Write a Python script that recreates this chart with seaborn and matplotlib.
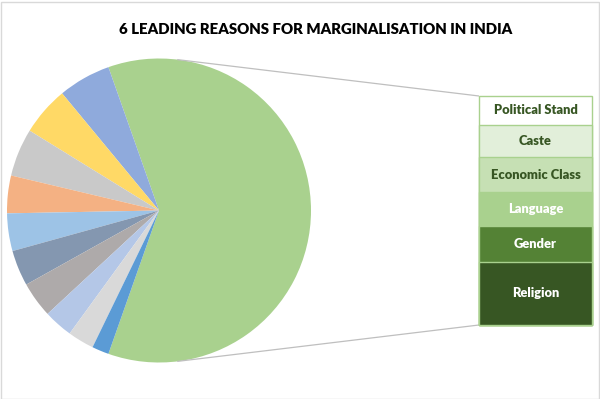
import numpy as np
import pandas as pd
import matplotlib
matplotlib.use("Agg")
import matplotlib.pyplot as plt
import seaborn as sns

# ---------------- data ----------------
title = "6 LEADING REASONS FOR MARGINALISATION IN INDIA"
# small, unlabelled slices of the main pie (percent)
other_values = [5.6, 5.2, 5.1, 4.0, 4.0, 3.8, 3.8, 3.1, 2.8, 1.8]
other_colors = ["#8FAADC", "#FFD966", "#C9C9C9", "#F4B183", "#9DC3E6",
                "#8497B0", "#AEAAAA", "#B4C7E7", "#D9D9D9", "#5B9BD5"]
# the six leading reasons (shown in the bar, top to bottom)
reasons = ["Political Stand", "Caste", "Economic Class", "Language", "Gender", "Religion"]
reason_values = [7.6, 8.7, 9.1, 9.0, 9.6, 16.8]
reason_colors = ["#FFFFFF", "#E2EFDA", "#C6E0B4", "#A9D18E", "#548235", "#375623"]
reason_text_colors = ["#375623", "#375623", "#375623", "#FFFFFF", "#FFFFFF", "#FFFFFF"]
group_color = "#A9D18E"

# ---------------- figure ----------------
sns.set_theme(style="white")
plt.rcParams["font.family"] = ["Lato", "DejaVu Sans"]

W, H = 600, 399
fig = plt.figure(figsize=(W / 100, H / 100), dpi=100)
ax = fig.add_axes([0, 0, 1, 1])

# pie geometry (pixels, y up)
cx, cy, r = 159.0, H - 210.5, 152.0
pie_values = [sum(reason_values)] + other_values
pie_colors = [group_color] + other_colors
start = -180.0 * pie_values[0] / sum(pie_values)
ax.pie(pie_values, colors=pie_colors, center=(cx, cy), radius=r,
       startangle=start, counterclock=True,
       wedgeprops=dict(linewidth=0), frame=True)
ax.set_xlim(0, W)
ax.set_ylim(0, H)
ax.set_aspect("equal")
ax.axis("off")

# bar (secondary plot)
bx0, bx1 = 479.0, 592.0
by_top, by_bot = 96.0, 325.0
bax = fig.add_axes([bx0 / W, (H - by_bot) / H, (bx1 - bx0) / W, (by_bot - by_top) / H])
total = sum(reason_values)
order = list(range(len(reasons)))[::-1]  # indices bottom->top
cum = np.cumsum([reason_values[i] for i in order])
bottoms = np.concatenate([[0], cum[:-1]])
for k in range(len(order) - 1, -1, -1):
    i = order[k]
    df = pd.DataFrame({"x": ["bar"], "y": [cum[k]]})
    sns.barplot(data=df, x="x", y="y", color=reason_colors[i], saturation=1,
                width=1.0, edgecolor=group_color, linewidth=1.0, ax=bax)
for p in bax.patches:
    p.set_clip_on(False)
for k, i in enumerate(order):
    bax.text(0, bottoms[k] + reason_values[i] / 2, reasons[i], ha="center", va="center",
             fontsize=9.3, fontweight="heavy", color=reason_text_colors[i])
bax.set_xlim(-0.5, 0.5)
bax.set_ylim(0, total)
bax.axis("off")

# connector lines: tangent from bar corners to the pie
def tangent_point(px, py, upper):
    dx, dy = px - cx, py - cy
    d = np.hypot(dx, dy)
    base = np.arctan2(dy, dx)
    off = np.arccos(r / d)
    angs = [base + off, base - off]
    pts = [(cx + r * np.cos(a), cy + r * np.sin(a)) for a in angs]
    pts.sort(key=lambda p: p[1])
    return pts[1] if upper else pts[0]

line_col = "#BFBFBF"
for (px, py, up) in [(bx0, H - by_top, True), (bx0, H - by_bot, False)]:
    tx, ty = tangent_point(px, py, up)
    ax.plot([tx, px], [ty, py], color=line_col, lw=0.9, solid_capstyle="butt")

# title, fitted to reference width
t = ax.text(316, H - 30, title, ha="center", va="center", fontsize=14,
            fontweight="heavy", color="#000000")
fig.canvas.draw()
w = t.get_window_extent().width
t.set_fontsize(14 * 398.0 / w)

# chart border
ax.add_patch(plt.Rectangle((0.5, 0.5), W - 2, H - 2, fill=False, edgecolor="#D9D9D9", lw=1))

fig.savefig("out.png", dpi=100)
